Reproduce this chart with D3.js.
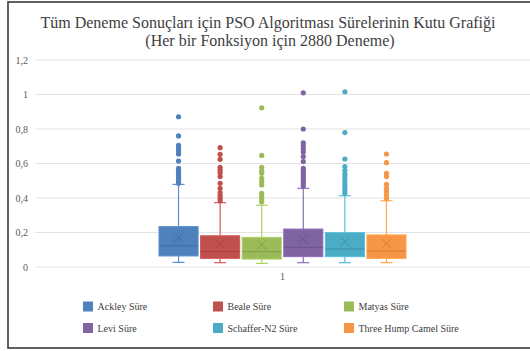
<!DOCTYPE html>
<html>
<head>
<meta charset="utf-8">
<script src="https://cdn.jsdelivr.net/npm/d3@7"></script>
<style>
  html, body { margin: 0; padding: 0; background: #fff; }
  svg { display: block; }
  svg text { font-family: "Liberation Serif", "Times New Roman", Times, "DejaVu Serif", serif; }
</style>
</head>
<body>
<svg id="chart" width="530" height="351"></svg>
<script>
// Series (one box per test function), all in the single category "1"
const seriesNames = ["Ackley Süre", "Beale Süre", "Matyas Süre", "Levi Süre", "Schaffer-N2 Süre", "Three Hump Camel Süre"];
const seriesColors = ["#4f81bd", "#c0504d", "#9bbb59", "#8064a2", "#4bacc6", "#f79646"];
const category = "1";

// Box statistics (seconds)
const whiskerLow  = [0.027, 0.025, 0.021, 0.025, 0.025, 0.025];
const quartile1   = [0.064, 0.050, 0.046, 0.060, 0.060, 0.050];
const medians     = [0.123, 0.089, 0.089, 0.114, 0.104, 0.093];
const quartile3   = [0.234, 0.181, 0.172, 0.220, 0.199, 0.186];
const whiskerHigh = [0.479, 0.373, 0.358, 0.456, 0.413, 0.384];
const means       = [0.170, 0.133, 0.128, 0.160, 0.147, 0.137];

// Outlying run times
const outliers = [
  [0.871, 0.760, 0.705, 0.688, 0.672, 0.655, 0.614, 0.572, 0.558, 0.543, 0.529, 0.514, 0.499, 0.485],
  [0.692, 0.653, 0.624, 0.578, 0.562, 0.547, 0.524, 0.485, 0.456, 0.431, 0.413, 0.398, 0.384],
  [0.923, 0.647, 0.578, 0.558, 0.543, 0.514, 0.495, 0.476, 0.427, 0.408, 0.392, 0.377],
  [1.010, 0.800, 0.720, 0.703, 0.685, 0.666, 0.640, 0.611, 0.572, 0.558, 0.543, 0.527, 0.514, 0.499, 0.485, 0.470],
  [1.016, 0.779, 0.626, 0.582, 0.559, 0.538, 0.519, 0.499, 0.480, 0.463, 0.444, 0.427],
  [0.655, 0.605, 0.543, 0.524, 0.479, 0.456, 0.437, 0.417, 0.398]
];

const yTicks = [0, 0.2, 0.4, 0.6, 0.8, 1, 1.2];

const svg = d3.select("#chart");

// Frame
svg.append("rect").attr("x", 8).attr("y", 2).attr("width", 530).attr("height", 346)
  .attr("fill", "#fff").attr("stroke", "#3a3a3a").attr("stroke-width", 1.6);

// Title
const title = svg.append("text").attr("text-anchor", "middle")
  .attr("font-size", 16).attr("fill", "#404040");
title.append("tspan").attr("x", 268).attr("y", 28)
  .text("Tüm Deneme Sonuçları için PSO Algoritması Sürelerinin Kutu Grafiği");
title.append("tspan").attr("x", 270).attr("y", 46)
  .text("(Her bir Fonksiyon için 2880 Deneme)");

// Scales
const plotLeft = 35, plotRight = 530;
const y = d3.scaleLinear().domain([0, 1.2]).range([267, 60]);
const xCat = d3.scaleBand().domain([category]).range([plotLeft, plotRight]);
const groupCenter = xCat(category) + xCat.bandwidth() / 2;
const groupWidth = 247;
const x = d3.scaleBand().domain(seriesNames)
  .range([groupCenter - groupWidth / 2, groupCenter + groupWidth / 2])
  .paddingInner(0.06).paddingOuter(0);

// Gridlines
svg.append("g").selectAll("line").data(yTicks).join("line")
  .attr("x1", plotLeft).attr("x2", plotRight)
  .attr("y1", d => y(d)).attr("y2", d => y(d))
  .attr("stroke", "#e3e3e3").attr("stroke-width", 1.2);

// Y axis labels
const yAxis = d3.axisLeft(y).tickValues(yTicks).tickSize(0).tickPadding(0)
  .tickFormat(d => String(d).replace(".", ","));
const yg = svg.append("g").attr("transform", `translate(${plotLeft - 7},0)`).call(yAxis);
yg.select(".domain").remove();
yg.attr("font-family", null);
yg.selectAll("text").attr("font-size", 10).attr("fill", "#595959");

// Category axis label
const xAxis = d3.axisBottom(xCat).tickSize(0).tickPadding(0);
const xg = svg.append("g").attr("transform", `translate(0,${y(0) + 6})`).call(xAxis);
xg.select(".domain").remove();
xg.attr("font-family", null);
xg.selectAll("text").attr("font-size", 10).attr("fill", "#595959");

// Boxes
const bw = x.bandwidth();
const capW = 12;
seriesNames.forEach((name, i) => {
  const col = seriesColors[i];
  const dark = d3.color(col).darker(0.5).formatHex();
  const light = d3.color(col).brighter(0.3).formatHex();
  const cx = x(name) + bw / 2;
  const g = svg.append("g");

  // whiskers
  g.append("line").attr("x1", cx).attr("x2", cx)
    .attr("y1", y(whiskerHigh[i])).attr("y2", y(quartile3[i]))
    .attr("stroke", light).attr("stroke-width", 1.2);
  g.append("line").attr("x1", cx).attr("x2", cx)
    .attr("y1", y(quartile1[i])).attr("y2", y(whiskerLow[i]))
    .attr("stroke", light).attr("stroke-width", 1.2);
  [whiskerHigh[i], whiskerLow[i]].forEach(v => {
    g.append("line").attr("x1", cx - capW / 2).attr("x2", cx + capW / 2)
      .attr("y1", y(v)).attr("y2", y(v))
      .attr("stroke", light).attr("stroke-width", 1.2);
  });

  // box
  g.append("rect").attr("x", x(name)).attr("y", y(quartile3[i]))
    .attr("width", bw).attr("height", y(quartile1[i]) - y(quartile3[i]))
    .attr("fill", col).attr("stroke", light).attr("stroke-width", 1);

  // median
  g.append("line").attr("x1", x(name)).attr("x2", x(name) + bw)
    .attr("y1", y(medians[i])).attr("y2", y(medians[i]))
    .attr("stroke", dark).attr("stroke-width", 1);

  // mean marker
  const m = y(means[i]), s = 4.5;
  g.append("path")
    .attr("d", `M${cx - s},${m - s}L${cx + s},${m + s}M${cx - s},${m + s}L${cx + s},${m - s}`)
    .attr("stroke", dark).attr("stroke-width", 1).attr("fill", "none");

  // outliers
  g.selectAll("circle").data(outliers[i]).join("circle")
    .attr("cx", cx).attr("cy", d => y(d)).attr("r", 2.6)
    .attr("fill", col);
});

// Legend
const legendCols = [83, 213, 344];
const legendRows = [306.5, 328];
seriesNames.forEach((name, i) => {
  const lx = legendCols[i % 3], ly = legendRows[Math.floor(i / 3)];
  svg.append("rect").attr("x", lx).attr("y", ly - 5).attr("width", 10).attr("height", 10)
    .attr("fill", seriesColors[i]);
  svg.append("text").attr("x", lx + 14.5).attr("y", ly + 3.5)
    .attr("font-size", 10).attr("fill", "#404040")
    .text(name);
});
</script>
</body>
</html>
